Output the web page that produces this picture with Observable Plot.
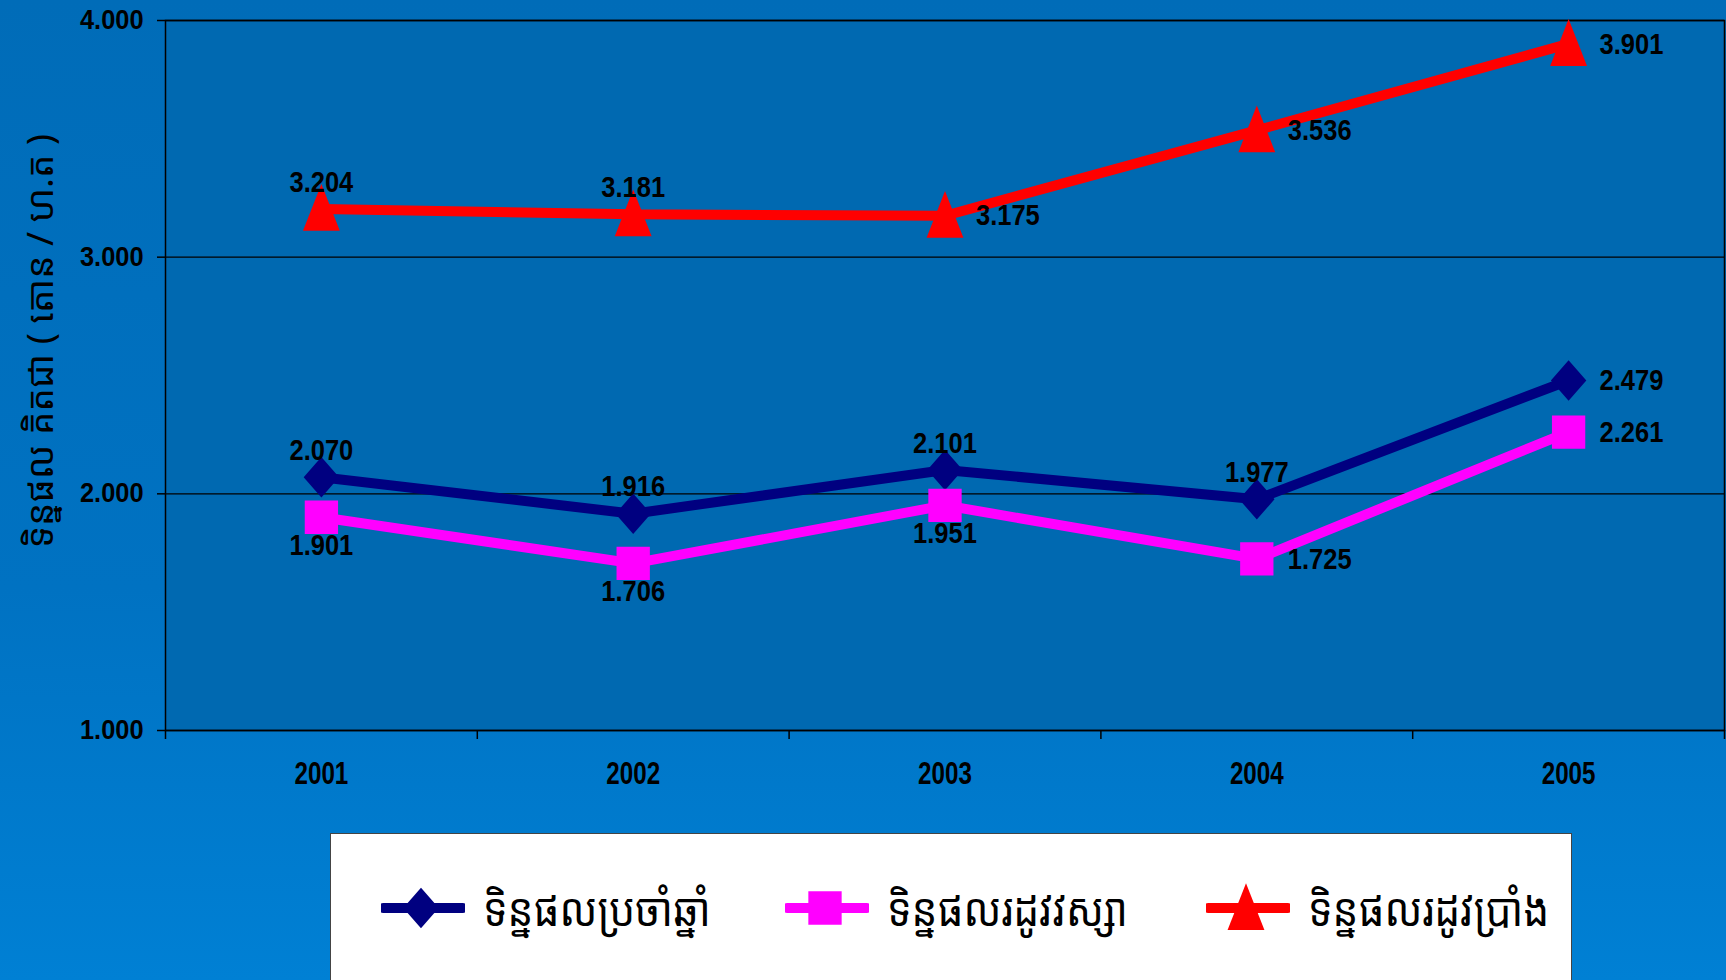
<!DOCTYPE html>
<html>
<head>
<meta charset="utf-8">
<script src="https://cdn.jsdelivr.net/npm/d3@7"></script>
<script src="https://cdn.jsdelivr.net/npm/@observablehq/plot@0.6"></script>
<style>
  html, body { margin: 0; padding: 0; }
  body {
    width: 1726px; height: 980px; overflow: hidden; position: relative;
    background: linear-gradient(180deg, #006cb8 0%, #0072c2 60%, #0080d4 100%);
    font-family: "Liberation Sans", Arial, sans-serif;
  }
  #chart { position: absolute; left: 0; top: 0; }
  #ylabel {
    position: absolute; left: 38px; top: 341px;
    transform: translate(-50%, -50%) rotate(-90deg);
    white-space: nowrap; font-size: 37px; color: #000;
    font-family: "Noto Sans Khmer", "Khmer OS", "Noto Serif Khmer", "Noto Sans", sans-serif;
  }
  #legend {
    position: absolute; left: 330px; top: 833px; width: 1242px; height: 160px;
    background: #fff; border: 1.5px solid #444; box-sizing: border-box;
  }
  .item { position: absolute; top: 0; height: 147px; display: flex; align-items: center; }
  .item svg { flex: none; }
  .item span {
    display: inline-block; transform: scaleX(0.89); transform-origin: left center;
    font-size: 46px; color: #000; margin-left: 18px; white-space: nowrap;
    font-family: "Noto Sans Khmer", "Khmer OS", "Noto Serif Khmer", "Noto Sans", sans-serif;
  }
</style>
</head>
<body>
<div id="chart"></div>
<div id="ylabel"></div>
<div id="legend"></div>
<script>
// ---- data ----
const years = [2001, 2002, 2003, 2004, 2005];
const annualYield = [2.070, 1.916, 2.101, 1.977, 2.479];
const wetYield = [1.901, 1.706, 1.951, 1.725, 2.261];
const dryYield = [3.204, 3.181, 3.175, 3.536, 3.901];
const seriesNames = ["ទិន្នផលប្រចាំឆ្នាំ", "ទិន្នផលរដូវវស្សា", "ទិន្នផលរដូវប្រាំង"];
const yTicks = [1, 2, 3, 4];
const yLabel = "ទិន្នផល គិតជា ( តោន / ហ.ត )";

// ---- label placement (style) ----
const placements = [
  ["above", "above", "above", "above", "right"],
  ["below", "below", "below", "right", "right"],
  ["above", "above", "right", "right", "right"]
];
const colors = ["#000080", "#ff00ff", "#ff0000"];

// ---- custom symbols ----
const diamondSym = {draw(ctx, size) { const s = Math.sqrt(size); const w = s * 0.5, h = s * 0.57;
  ctx.moveTo(0, -h); ctx.lineTo(w, 0); ctx.lineTo(0, h); ctx.lineTo(-w, 0); ctx.closePath(); }};
const squareSym = {draw(ctx, size) { const s = Math.sqrt(size) * 0.47;
  ctx.moveTo(-s, -s); ctx.lineTo(s, -s); ctx.lineTo(s, s); ctx.lineTo(-s, s); ctx.closePath(); }};
const triangleSym = {draw(ctx, size) { const s = Math.sqrt(size);
  ctx.moveTo(0, -0.7 * s); ctx.lineTo(0.52 * s, 0.62 * s); ctx.lineTo(-0.52 * s, 0.62 * s); ctx.closePath(); }};
const symbols = [diamondSym, squareSym, triangleSym];

const seriesValues = [annualYield, wetYield, dryYield];
const rows = [];
seriesValues.forEach((vals, si) => vals.forEach((v, i) => rows.push({
  year: years[i], value: v, series: seriesNames[si], si, place: placements[si][i]
})));
const boundaries = years.map(y => y - 0.5).concat([years[years.length - 1] + 0.5]);

const bold = {fontFamily: "'Liberation Sans', Arial, sans-serif", fontWeight: "bold", fill: "#000"};

const marks = [
  Plot.frame({fill: "#0069b1"}),
  Plot.gridY(yTicks, {stroke: "#000", strokeOpacity: 1, strokeWidth: 1.3}),
  Plot.axisY(yTicks, {tickSize: 8, tickPadding: 14, tickFormat: d => d3.format(".3f")(d),
    ...bold, fontSize: 27, stroke: "#000", strokeWidth: 1.5, label: null}),
  Plot.axisX(boundaries, {tickSize: 9, tickFormat: () => "", stroke: "#000", strokeWidth: 1.5, label: null}),
  Plot.axisX(years, {tickSize: 0, tickPadding: 31, tickFormat: d => String(d), ...bold, fontSize: 31, label: null}),
  Plot.frame({stroke: "#000", strokeWidth: 1.5})
];
seriesNames.forEach((name, si) => {
  const data = rows.filter(d => d.si === si);
  marks.push(Plot.line(data, {x: "year", y: "value", stroke: colors[si], strokeWidth: 10, strokeLinejoin: "miter"}));
});
seriesNames.forEach((name, si) => {
  const data = rows.filter(d => d.si === si);
  marks.push(Plot.dot(data, {x: "year", y: "value", symbol: symbols[si], fill: colors[si], r: 20, stroke: "none"}));
});
const fmt = d => d3.format(".3f")(d.value);
const lab = {x: "year", y: "value", text: fmt, ...bold, fontSize: 30};
marks.push(
  Plot.text(rows.filter(d => d.place === "above"), {...lab, dy: -27, textAnchor: "middle"}),
  Plot.text(rows.filter(d => d.place === "below"), {...lab, dy: 28, textAnchor: "middle"}),
  Plot.text(rows.filter(d => d.place === "right"), {...lab, dx: 31, textAnchor: "start"})
);

const chart = Plot.plot({
  width: 1726, height: 833,
  marginLeft: 165, marginRight: 2, marginTop: 20, marginBottom: 103,
  style: {background: "transparent", overflow: "visible"},
  x: {type: "linear", domain: [boundaries[0], boundaries[boundaries.length - 1]], axis: null},
  y: {domain: [1, 4], axis: null},
  marks
});

// condense the bold numeric text horizontally (narrow-font look)
function condense(sel, s) {
  chart.querySelectorAll(sel).forEach(t => {
    const xa = t.getAttribute("x");
    const ax = xa != null && isFinite(parseFloat(xa)) && !/em$/.test(xa) ? parseFloat(xa) : 0;
    const tr = t.getAttribute("transform") || "";
    t.setAttribute("transform", `${tr} translate(${ax},0) scale(${s},1) translate(${-ax},0)`.trim());
  });
}
condense('g[font-size="30"] text', 0.85);
condense('g[font-size="31"] text', 0.78);
condense('g[font-size="27"] text', 0.94);

document.getElementById("chart").appendChild(chart);
document.getElementById("ylabel").textContent = yLabel;

// ---- legend ----
const legendPos = [50, 454, 875];
const legend = document.getElementById("legend");
seriesNames.forEach((name, si) => {
  const item = document.createElement("div");
  item.className = "item";
  item.style.left = legendPos[si] + "px";
  const svg = d3.create("svg").attr("width", 84).attr("height", 50);
  svg.append("line").attr("x1", 2).attr("x2", 82).attr("y1", 25).attr("y2", 25)
    .attr("stroke", colors[si]).attr("stroke-width", 10).attr("stroke-linecap", "round");
  svg.append("path").attr("transform", "translate(40,25)")
    .attr("d", d3.symbol(symbols[si], Math.PI * 400)()).attr("fill", colors[si]);
  item.appendChild(svg.node());
  const span = document.createElement("span");
  span.textContent = name;
  item.appendChild(span);
  legend.appendChild(item);
});
</script>
</body>
</html>
